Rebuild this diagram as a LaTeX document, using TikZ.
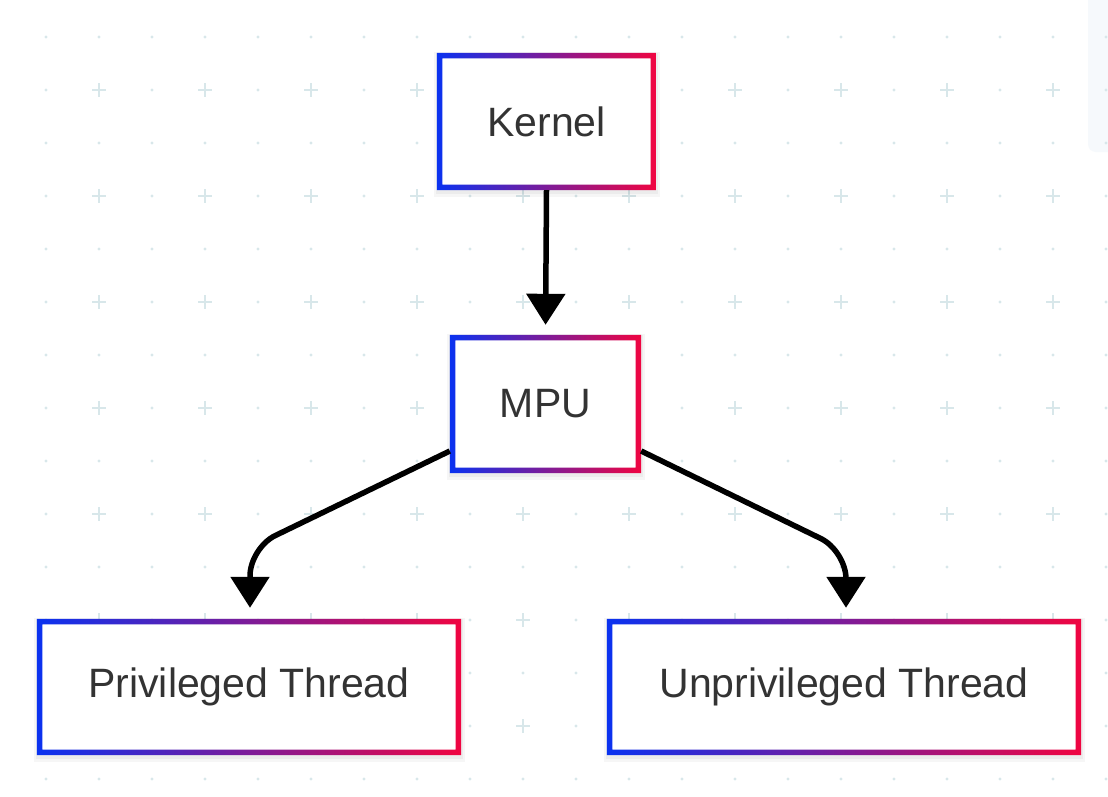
\documentclass[tikz,border=0pt]{standalone}
\usepackage{fontspec}
\setmainfont{Liberation Sans}
\usetikzlibrary{arrows.meta,calc}
\definecolor{gblue}{RGB}{10,50,240}
\definecolor{gred}{RGB}{240,5,65}
\definecolor{txt}{RGB}{51,51,51}
\definecolor{gridc}{RGB}{216,231,234}
\definecolor{panel}{RGB}{246,249,252}
\tikzset{
  box/.style={fill=white, inner sep=0pt, font=\fontsize{41}{48}\selectfont, text=txt},
  conn/.style={line width=5.5pt, -{Triangle[width=38pt,length=31pt]}, rounded corners=28pt},
  gborder/.style={left color=gblue, right color=gred, even odd rule},
  gdot/.style={fill=gridc},
  gplus/.style={draw=gridc, line width=2.4pt},
}
\newcommand{\gradborder}[1]{%
  \fill[black,opacity=0.035] ($(#1.north west)+(-3,-1)$) rectangle ($(#1.south east)+(4,7)$);
  \fill[black,opacity=0.04] ($(#1.north west)+(-1,0)$) rectangle ($(#1.south east)+(2,4)$);
  \fill[white] (#1.north west) rectangle (#1.south east);
  \shade[gborder] (#1.north west) rectangle (#1.south east)
     ($(#1.north west)+(5.5,5.5)$) rectangle ($(#1.south east)+(-5.5,-5.5)$);}
\begin{document}
\begin{tikzpicture}[x=1pt,y=-1pt]
\useasboundingbox (0,0) rectangle (1108,796);
\fill[white] (0,0) rectangle (1108,796);
\fill[panel, rounded corners=8pt] (1088,-10) rectangle (1130,152);
% background grid
\foreach \i in {0,...,20} {
  \foreach \j in {0,...,14} {
    \fill[gdot] (46+53*\i, 37+53*\j) circle (1.7pt);
  }
}
\foreach \i in {1,3,...,19} {
  \foreach \j in {1,3,...,13} {
    \draw[gplus] (46+53*\i-7, 37+53*\j) -- ++(14,0);
    \draw[gplus] (46+53*\i, 37+53*\j-7) -- ++(0,14);
  }
}
% nodes
\node[box, minimum width=219pt, minimum height=137pt] (k) at (546.5,121.5) {};
\node[box, minimum width=191pt, minimum height=138pt] (m) at (545.5,404) {};
\node[box, minimum width=424pt, minimum height=136pt] (p) at (249,687) {};
\node[box, minimum width=474pt, minimum height=136pt] (u) at (844,687) {};
\gradborder{k}
\gradborder{m}
\gradborder{p}
\gradborder{u}
\node[box, fill=none] at (k) {Kernel};
\node[box, fill=none] at (m) {MPU};
\node[box, fill=none] at (p) {Privileged Thread};
\node[box, fill=none] at (u) {Unprivileged Thread};
% connectors
\draw[conn, shorten >=10pt] (k.south) -- (m.north);
\draw[conn, shorten >=11pt] ($(m.west)+(0,47)$) -- ($(p.north)+(1,-71)$) -- ($(p.north)+(1,0)$);
\draw[conn, shorten >=11pt] ($(m.east)+(0,47)$) -- ($(u.north)+(2,-68)$) -- ($(u.north)+(2,0)$);
\end{tikzpicture}
\end{document}
